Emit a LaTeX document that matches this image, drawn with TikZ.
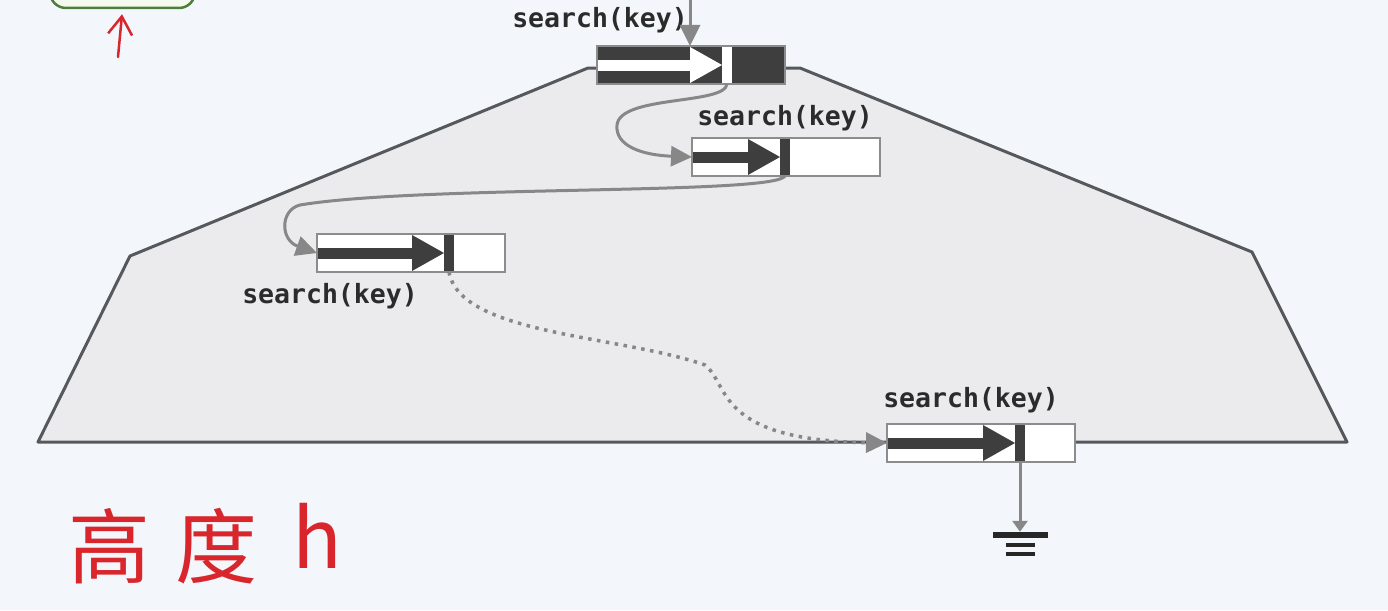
\documentclass[tikz,border=0pt]{standalone}
\usepackage{fontspec}
\usetikzlibrary{arrows.meta,calc}
\newfontfamily\labelfont{DejaVu Sans Mono}
\newfontfamily\cjk{Noto Sans CJK SC}
\definecolor{bgc}{HTML}{F3F7FC}
\definecolor{polyfill}{HTML}{EBEBEE}
\definecolor{polyline}{HTML}{56595C}
\definecolor{connc}{HTML}{878787}
\definecolor{darkc}{HTML}{3E3E3E}
\definecolor{boxgray}{HTML}{8C8C8C}
\definecolor{handred}{HTML}{D8262C}
\definecolor{gline}{HTML}{4E7E3E}
\definecolor{gfill}{HTML}{F4FAEE}
\definecolor{labeltxt}{HTML}{2B2B2B}
\tikzset{
  keybox/.style={rectangle, anchor=north west, minimum width=188pt, minimum height=38pt, inner sep=0pt, outer sep=0pt, draw=none},
  boxborder/.style={draw=boxgray, line width=2.5pt},
  conn/.style={draw=connc, line width=3pt},
  tipbig/.style={-{Triangle[length=21pt,width=20pt]}},
  tipsmall/.style={-{Triangle[length=11pt,width=15pt]}},
  dots/.style={draw=connc, line width=3.5pt, dash pattern=on 3.5pt off 5.5pt},
  lbl/.style={anchor=base, inner sep=0pt, text=labeltxt, font=\labelfont\bfseries\fontsize{26.5}{30}\selectfont},
  handtext/.style={anchor=base west, inner sep=0pt, text=handred, font=\cjk\fontsize{82}{90}\selectfont},
  handline/.style={draw=handred, line width=2.5pt, line cap=round},
  greenbox/.style={rectangle, rounded corners=16pt, draw=gline, fill=gfill, line width=2.5pt, minimum width=145pt, minimum height=60pt},
  gndbar/.style={rectangle, fill=black!85, inner sep=0pt, minimum width=55pt, minimum height=6pt}
}
% #1 name, #2 left x, #3 top y, #4 head start, #5 background, #6 foreground
\newcommand\keyrec[6]{%
\begin{scope}[shift={(#2,#3)}]
\node[keybox, fill=#5] (#1) at (0,0) {};
\fill[#6] (0,14) rectangle (#4,25);
\fill[#6] (#4,1) -- (#4+32,19) -- (#4,37) -- cycle;
\fill[#6] (#4+32,0) rectangle (#4+42,38);
\draw[boxborder] (#1.north west) rectangle (#1.south east);
\coordinate (#1-bar) at (#4+37,38);
\end{scope}}
\begin{document}
\begin{tikzpicture}[x=1pt,y=-1pt]
\useasboundingbox (0,0) rectangle (1388,610);
\fill[bgc] (0,0) rectangle (1388,610);
% trapezoid tree outline
\draw[polyline, fill=polyfill, line width=3pt, line join=round]
  (38,442) -- (130,256) -- (588,68) -- (800,68) -- (1252,252) -- (1347,442) -- cycle;
% green box and red arrow top-left
\node[greenbox] (gb) at (122.5,-22) {};
\coordinate (rtail) at (118,57);
\draw[handline, -{Straight Barb[length=18pt,width=24pt]}, shorten >=5pt] (rtail) -- (gb.south);
% labels
\node[lbl] (l1) at (600,28) {search(key)};
\node[lbl] (l2) at (785,125) {search(key)};
\node[lbl] (l3) at (330,303) {search(key)};
\node[lbl] (l4) at (971,407) {search(key)};
% key records
\keyrec{n1}{597}{46}{93}{darkc}{white}
\keyrec{n2}{692}{138}{56}{white}{darkc}
\keyrec{n3}{317}{234}{95}{white}{darkc}
\keyrec{n4}{887}{424}{96}{white}{darkc}
% connectors
\coordinate (topin) at (690,-5);
\draw[conn, tipbig] (topin) -- (topin |- n1.north);
\draw[conn, tipbig] (n1-bar) .. controls (725,105) and (620,95) .. (617,125)
  .. controls (615,145) and (640,155) .. (n2.west);
\draw[conn, tipbig] (n2-bar) .. controls (775,195) and (420,185) .. (300,205)
  .. controls (280,210) and (280,240) .. (n3.west);
\draw[dots, tipbig] (n3-bar) .. controls (460,335) and (620,335) .. (705,365)
  .. controls (730,385) and (715,440) .. (n4.west);
% ground
\node[gndbar] (gnd) at (1020,535) {};
\draw[conn, tipsmall] (n4-bar) -- (gnd.north);
\fill[black!85] ($(gnd.south)+(-14.5,5)$) rectangle ($(gnd.south)+(14.5,9)$);
\fill[black!85] ($(gnd.south)+(-14.5,14)$) rectangle ($(gnd.south)+(14.5,18)$);
% handwritten height note
\node[handtext] (ht) at (68,577) {高\hspace{25pt}度\hspace{35pt}\raisebox{9pt}{h}};
\end{tikzpicture}
\end{document}
